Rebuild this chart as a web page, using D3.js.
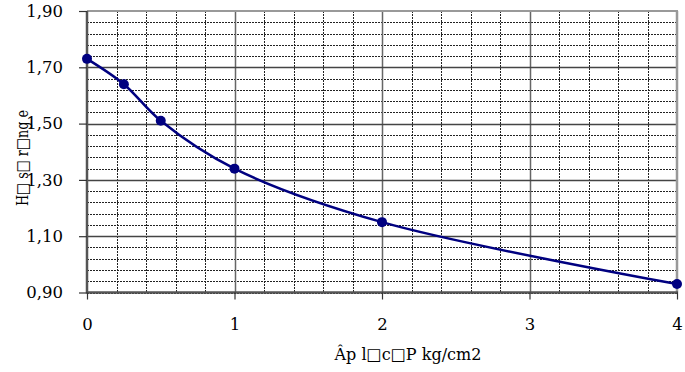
<!DOCTYPE html>
<html>
<head>
<meta charset="utf-8">
<script src="https://cdn.jsdelivr.net/npm/d3@7"></script>
<style>
  html, body { margin: 0; padding: 0; background: #fff; }
  svg { display: block; }
</style>
</head>
<body>
<svg id="chart" width="685" height="372"></svg>
<script>
// Pressure (kg/cm2) and void ratio e
const pressure = [0, 0.25, 0.5, 1, 2, 4];
const voidRatio = [1.73, 1.64, 1.51, 1.34, 1.15, 0.93];
const xTicks = [0, 1, 2, 3, 4];
const yTicks = [0.90, 1.10, 1.30, 1.50, 1.70, 1.90];
const xTitle = "Âp l\u25A1c\u25A1P kg/cm2";
const yTitle = "H\u25A1 s\u25A1 r\u25A1ng e";

const FONT = "'DejaVu Serif', serif";
const FS = 16.5;
const svg = d3.select("#chart");
const plotL = 87, plotR = 677, plotT = 11, plotB = 292.5;

const x = d3.scaleLinear().domain([0, 4]).range([plotL, plotR]);
const y = d3.scaleLinear().domain([0.9, 1.9]).range([plotB, plotT]);

const fmt = v => d3.format(".2f")(v).replace(".", ",");

// minor grid: dashed
const minorX = d3.range(0, 4.0001, 0.2).filter(v => Math.abs(v - Math.round(v)) > 1e-6);
const minorY = d3.range(0.9, 1.9001, 0.04).filter(v => Math.abs(v * 5 - Math.round(v * 5)) > 1e-6);

const grid = svg.append("g");
grid.selectAll("line.mx").data(minorX).join("line")
  .attr("x1", d => Math.round(x(d)) + 0.5).attr("x2", d => Math.round(x(d)) + 0.5)
  .attr("y1", plotT).attr("y2", plotB)
  .attr("stroke", "#222").attr("stroke-width", 1).attr("stroke-dasharray", "2,1");
grid.selectAll("line.my").data(minorY).join("line")
  .attr("x1", plotL).attr("x2", plotR)
  .attr("y1", d => Math.round(y(d)) + 0.5).attr("y2", d => Math.round(y(d)) + 0.5)
  .attr("stroke", "#222").attr("stroke-width", 1).attr("stroke-dasharray", "2,1");

// major grid: solid
grid.selectAll("line.Mx").data(xTicks.slice(1, -1)).join("line")
  .attr("x1", d => Math.round(x(d)) + 0.5).attr("x2", d => Math.round(x(d)) + 0.5)
  .attr("y1", plotT).attr("y2", plotB)
  .attr("stroke", "#666").attr("stroke-width", 1.5);
grid.selectAll("line.My").data(yTicks.slice(1, -1)).join("line")
  .attr("x1", plotL).attr("x2", plotR)
  .attr("y1", d => Math.round(y(d)) + 0.5).attr("y2", d => Math.round(y(d)) + 0.5)
  .attr("stroke", "#444").attr("stroke-width", 1.5);

// frame: top and right in light gray
svg.append("line").attr("x1", plotL).attr("x2", plotR + 1).attr("y1", plotT).attr("y2", plotT)
  .attr("stroke", "#999").attr("stroke-width", 2);
svg.append("line").attr("x1", plotR).attr("x2", plotR).attr("y1", plotT).attr("y2", plotB)
  .attr("stroke", "#999").attr("stroke-width", 2.5);

// axes
const yAxis = d3.axisLeft(y).tickValues(yTicks).tickFormat(fmt).tickSize(8).tickPadding(16);
const gy = svg.append("g").attr("transform", `translate(${plotL},0)`).call(yAxis);
const xAxis = d3.axisBottom(x).tickValues(xTicks).tickFormat(d3.format("d")).tickSize(7).tickPadding(19);
const gx = svg.append("g").attr("transform", `translate(0,${plotB})`).call(xAxis);

[gx, gy].forEach(g => {
  g.attr("font-family", FONT).attr("font-size", FS);
  g.select(".domain").attr("stroke", "#555").attr("stroke-width", 2.5);
  g.selectAll(".tick line").attr("stroke", "#333").attr("stroke-width", 1.2);
  g.selectAll(".tick text").attr("font-family", FONT).attr("font-size", FS).attr("fill", "#000");
});
gx.select(".domain").attr("d", `M${plotL},0H${plotR + 1}`);
gy.select(".domain").attr("d", `M0,${plotT}V${plotB + 1}`);

// series line
const line = d3.line().x((d, i) => x(pressure[i])).y(d => y(d)).curve(d3.curveCatmullRom.alpha(0.5));
svg.append("path").datum(voidRatio).attr("d", line)
  .attr("fill", "none").attr("stroke", "#000080").attr("stroke-width", 2.5);

svg.selectAll("circle.pt").data(voidRatio).join("circle")
  .attr("cx", (d, i) => x(pressure[i])).attr("cy", d => y(d)).attr("r", 5)
  .attr("fill", "#000080");

// axis titles
svg.append("text").attr("x", 408).attr("y", 360).attr("text-anchor", "middle")
  .attr("textLength", 147).attr("lengthAdjust", "spacingAndGlyphs")
  .attr("font-family", FONT).attr("font-size", FS).attr("fill", "#000").text(xTitle);
svg.append("text").attr("transform", "translate(28,158) rotate(-90)").attr("text-anchor", "middle")
  .attr("textLength", 96).attr("lengthAdjust", "spacingAndGlyphs")
  .attr("font-family", FONT).attr("font-size", FS).attr("fill", "#000").text(yTitle);
</script>
</body>
</html>
